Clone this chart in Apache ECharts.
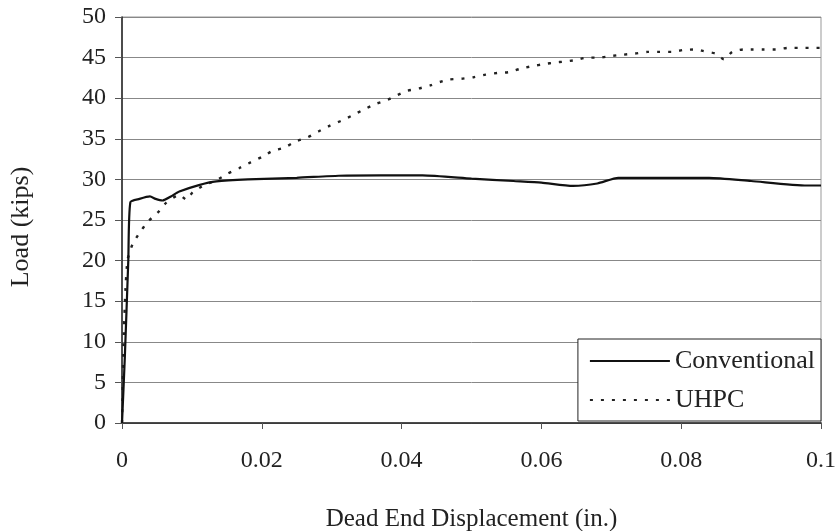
<!DOCTYPE html>
<html>
<head>
<meta charset="utf-8">
<script src="https://cdn.jsdelivr.net/npm/echarts@6/dist/echarts.min.js"></script>
<style>html,body{margin:0;padding:0;background:#fff;}#chart{width:840px;height:531px;}</style>
</head>
<body>
<div id="chart"></div>
<script>
const xTicks = [0, 0.02, 0.04, 0.06, 0.08, 0.1];
const yTicks = [0, 5, 10, 15, 20, 25, 30, 35, 40, 45, 50];
const seriesNames = ['Conventional', 'UHPC'];

const convX = [0, 0.0004, 0.0009, 0.0012, 0.0025, 0.004, 0.0048, 0.0058, 0.007, 0.0082, 0.011, 0.0135, 0.018, 0.025, 0.031, 0.037, 0.043, 0.05, 0.056, 0.06, 0.0645, 0.068, 0.071, 0.078, 0.084, 0.09, 0.098, 0.1];
const convY = [0, 8, 20, 27.2, 27.6, 27.9, 27.6, 27.4, 27.9, 28.5, 29.3, 29.75, 30.0, 30.2, 30.45, 30.5, 30.5, 30.1, 29.8, 29.6, 29.2, 29.5, 30.2, 30.2, 30.2, 29.8, 29.25, 29.25];

const uhpcX = [0, 0.0002, 0.0005, 0.0008, 0.0015, 0.0025, 0.0037, 0.0051, 0.0063, 0.0082, 0.0092, 0.0101, 0.0118, 0.0135, 0.0151, 0.0168, 0.0184, 0.0201, 0.0215, 0.0232, 0.0249, 0.0266, 0.0281, 0.0297, 0.0313, 0.0330, 0.0346, 0.0363, 0.0380, 0.0392, 0.0408, 0.0425, 0.0442, 0.0451, 0.0468, 0.0486, 0.0504, 0.0520, 0.0537, 0.0553, 0.0569, 0.0587, 0.0604, 0.0620, 0.0632, 0.0649, 0.0665, 0.0682, 0.0700, 0.0716, 0.0734, 0.0752, 0.0769, 0.0786, 0.0804, 0.0820, 0.0832, 0.0849, 0.0861, 0.0873, 0.0889, 0.0901, 0.0918, 0.0935, 0.0953, 0.0969, 0.0987, 0.1];
const uhpcY = [0, 9.4, 16.5, 20.1, 22.0, 23.4, 24.8, 25.9, 27.1, 28.1, 27.5, 28.4, 29.3, 29.9, 30.7, 31.4, 32.1, 32.8, 33.5, 33.9, 34.7, 35.2, 35.9, 36.6, 37.2, 37.9, 38.6, 39.3, 39.8, 40.3, 40.9, 41.2, 41.6, 41.9, 42.3, 42.4, 42.6, 42.9, 43.1, 43.2, 43.6, 43.95, 44.2, 44.4, 44.5, 44.7, 45.0, 45.0, 45.2, 45.35, 45.5, 45.7, 45.7, 45.7, 45.95, 46.0, 45.8, 45.5, 44.8, 45.7, 46.0, 46.0, 46.0, 46.0, 46.2, 46.2, 46.2, 46.2];

const font = 'Liberation Serif';
const zip = (xs, ys) => xs.map((x, i) => [x, ys[i]]);

const chart = echarts.init(document.getElementById('chart'));
chart.setOption({
  backgroundColor: '#ffffff',
  animation: false,
  grid: { left: 122, right: 19, top: 17, bottom: 108, containLabel: false, outerBoundsMode: 'none',
    show: true, borderColor: '#999', borderWidth: 1 },
  legend: {
    orient: 'vertical',
    right: 19, bottom: 110,
    backgroundColor: '#ffffff',
    borderColor: '#222', borderWidth: 1,
    padding: [9, 6, 8, 11],
    itemWidth: 80, itemHeight: 14, itemGap: 13,
    itemStyle: { opacity: 0 },
    textStyle: { fontFamily: font, fontSize: 26, color: '#222', lineHeight: 26 },
    data: seriesNames
  },
  xAxis: {
    type: 'value', min: 0, max: 0.1, interval: 0.02,
    name: 'Dead End Displacement (in.)', nameLocation: 'middle', nameGap: 84,
    nameTextStyle: { fontFamily: font, fontSize: 25, color: '#222' },
    axisLine: { show: true, lineStyle: { color: '#222', width: 1.5 } },
    axisTick: { show: true, length: 6, lineStyle: { color: '#555' } },
    splitLine: { show: false },
    axisLabel: { fontFamily: font, fontSize: 24, color: '#222', margin: 26,
      formatter: v => xTicks.find(t => Math.abs(t - v) < 1e-9) !== undefined ? String(+v.toFixed(2)) : '' }
  },
  yAxis: {
    type: 'value', min: 0, max: 50, interval: 5,
    name: 'Load (kips)', nameLocation: 'middle', nameGap: 88,
    nameTextStyle: { fontFamily: font, fontSize: 26, color: '#222', padding: [0, 14, 0, 0] },
    axisLine: { show: true, lineStyle: { color: '#222', width: 1.5 } },
    axisTick: { show: true, length: 7, lineStyle: { color: '#555' } },
    splitLine: { show: true, lineStyle: { color: '#888', width: 1 } },
    axisLabel: { fontFamily: font, fontSize: 24, color: '#222', margin: 16,
      formatter: v => yTicks.includes(v) ? String(v) : '' }
  },
  series: [
    {
      name: seriesNames[0], type: 'line', data: zip(convX, convY),
      showSymbol: false, symbol: 'none', smooth: 0.2,
      lineStyle: { color: '#111', width: 2.2 }, itemStyle: { color: '#111' }, z: 3
    },
    {
      name: seriesNames[1], type: 'line', data: zip(uhpcX, uhpcY),
      showSymbol: false, symbol: 'none', smooth: 0.2,
      lineStyle: { color: '#222', width: 2.4, type: [3, 8] }, itemStyle: { color: '#222' }, z: 2
    }
  ]
});
</script>
</body>
</html>
